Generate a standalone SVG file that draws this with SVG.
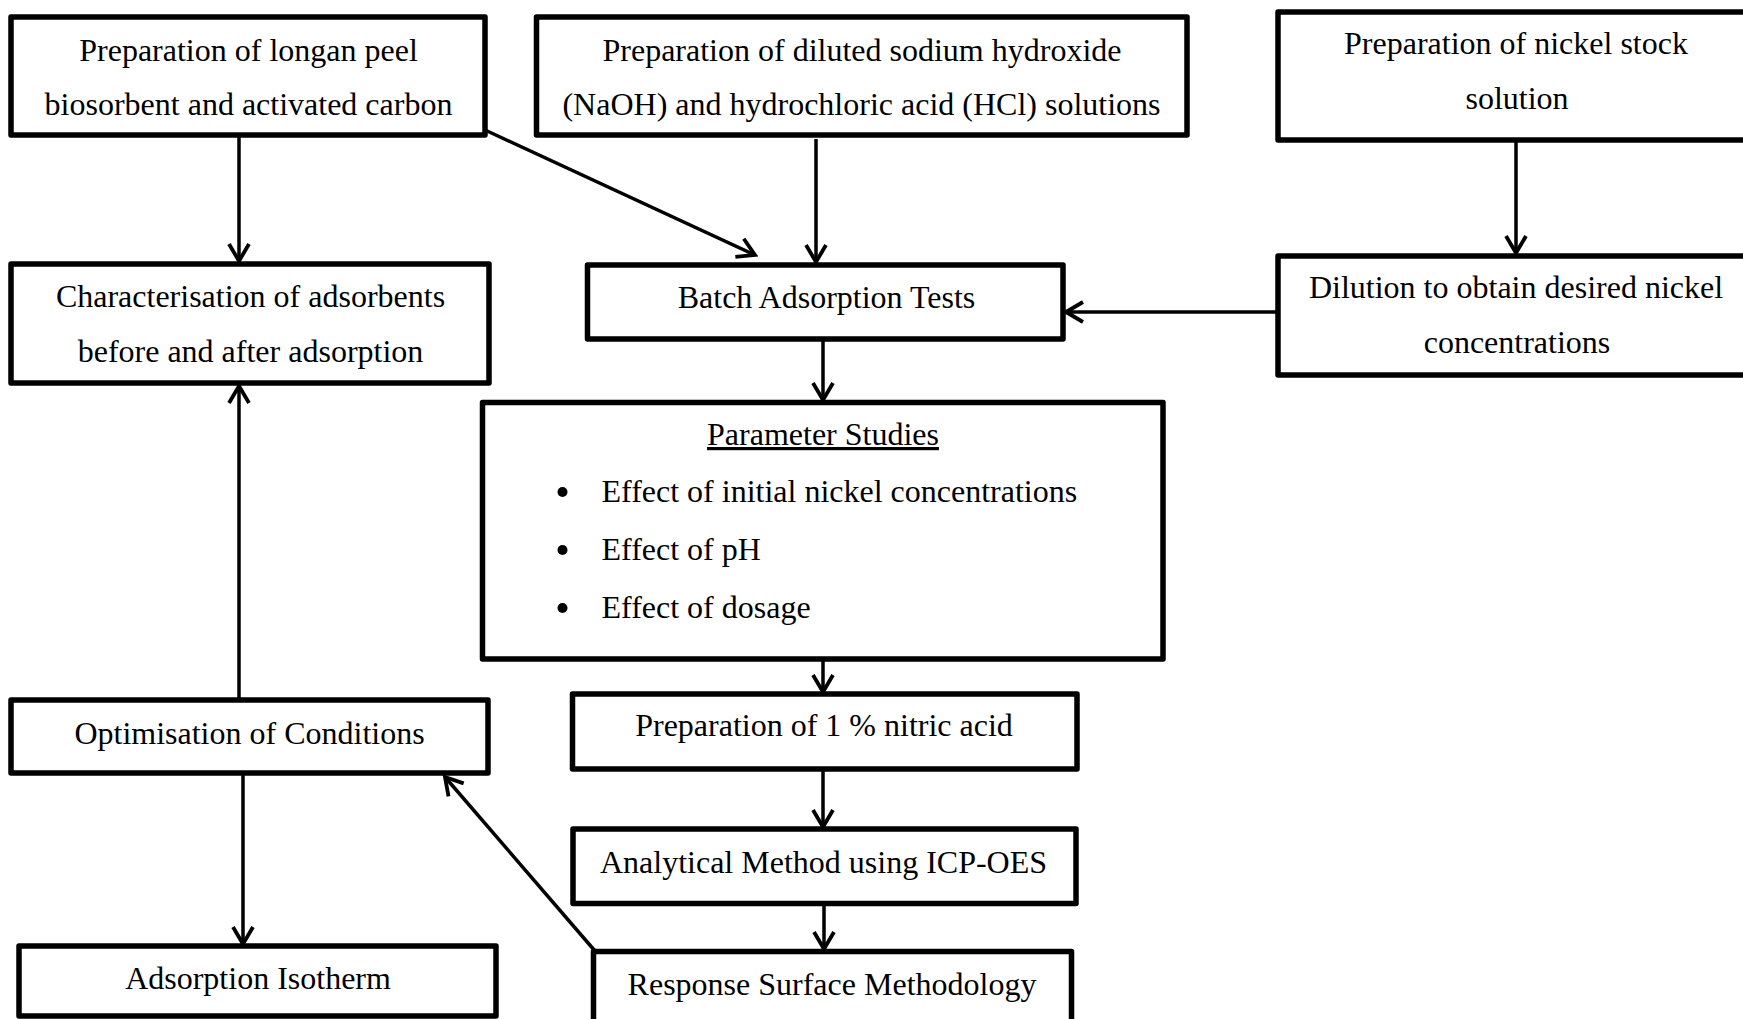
<svg xmlns="http://www.w3.org/2000/svg" width="1743" height="1019" viewBox="0 0 1743 1019">
<style>
.box{fill:#fff;stroke:#000;stroke-width:5.5;stroke-linejoin:round}
.t{font-family:"Liberation Serif","Times New Roman",serif;font-size:32px;fill:#000;text-anchor:middle}
.l{text-anchor:start}
.c{fill:none;stroke:#000;stroke-width:3.5}
</style>
<defs>
<marker id="arr" viewBox="0 0 24 24" refX="21" refY="12" markerWidth="24" markerHeight="24" markerUnits="userSpaceOnUse" orient="auto">
<path d="M4,2 L21,12 L4,22" fill="none" stroke="#000" stroke-width="3.8"/>
</marker>
</defs>
<rect width="1743" height="1019" fill="#fff"/>
<g id="connectors">
<line class="c" x1="239" y1="137" x2="239" y2="261" marker-end="url(#arr)"/>
<line class="c" x1="485" y1="130" x2="755" y2="255" marker-end="url(#arr)"/>
<line class="c" x1="816" y1="139" x2="816" y2="262" marker-end="url(#arr)"/>
<line class="c" x1="1516" y1="138" x2="1516" y2="253" marker-end="url(#arr)"/>
<line class="c" x1="1276" y1="312" x2="1066" y2="312" marker-end="url(#arr)"/>
<line class="c" x1="823" y1="341" x2="823" y2="400" marker-end="url(#arr)"/>
<line class="c" x1="823" y1="661" x2="823" y2="692" marker-end="url(#arr)"/>
<line class="c" x1="823" y1="771" x2="823" y2="827" marker-end="url(#arr)"/>
<line class="c" x1="824" y1="903" x2="824" y2="949" marker-end="url(#arr)"/>
<line class="c" x1="595" y1="951" x2="445" y2="777" marker-end="url(#arr)"/>
<line class="c" x1="239" y1="698" x2="239" y2="386" marker-end="url(#arr)"/>
<line class="c" x1="243" y1="775" x2="243" y2="944" marker-end="url(#arr)"/>
</g>
<g id="n1"><rect class="box" x="11" y="17" width="474" height="118"/>
<text class="t" x="248.5" y="61">Preparation of longan peel</text>
<text class="t" x="248.5" y="115">biosorbent and activated carbon</text></g>
<g id="n2"><rect class="box" x="536.5" y="17" width="650.5" height="118"/>
<text class="t" x="862" y="61">Preparation of diluted sodium hydroxide</text>
<text class="t" x="861.5" y="115">(NaOH) and hydrochloric acid (HCl) solutions</text></g>
<g id="n3"><rect class="box" x="1278" y="12" width="500" height="128"/>
<text class="t" x="1516" y="54">Preparation of nickel stock</text>
<text class="t" x="1517" y="109">solution</text></g>
<g id="n4"><rect class="box" x="11" y="264" width="478" height="119"/>
<text class="t" x="250.5" y="307">Characterisation of adsorbents</text>
<text class="t" x="250.5" y="362">before and after adsorption</text></g>
<g id="n5"><rect class="box" x="587.5" y="265" width="475.5" height="74"/>
<text class="t" x="826.5" y="308">Batch Adsorption Tests</text></g>
<g id="n6"><rect class="box" x="1278" y="256" width="500" height="119"/>
<text class="t" x="1516" y="298">Dilution to obtain desired nickel</text>
<text class="t" x="1517" y="353">concentrations</text></g>
<g id="n7"><rect class="box" x="482.5" y="402.5" width="680.5" height="256.5"/>
<text class="t" x="823" y="445" text-decoration="underline">Parameter Studies</text>
<circle cx="562.5" cy="492" r="5"/>
<circle cx="562.5" cy="550" r="5"/>
<circle cx="562.5" cy="608" r="5"/>
<text class="t l" x="601.5" y="502">Effect of initial nickel concentrations</text>
<text class="t l" x="601.5" y="560">Effect of pH</text>
<text class="t l" x="601.5" y="618">Effect of dosage</text></g>
<g id="n8"><rect class="box" x="11" y="700" width="477" height="73"/>
<text class="t" x="249.5" y="744">Optimisation of Conditions</text></g>
<g id="n9"><rect class="box" x="572.5" y="694" width="504.5" height="75"/>
<text class="t" x="824" y="736">Preparation of 1 % nitric acid</text></g>
<g id="n10"><rect class="box" x="573" y="829" width="503" height="74.5"/>
<text class="t" x="823.5" y="873">Analytical Method using ICP-OES</text></g>
<g id="n11"><rect class="box" x="19" y="946" width="477" height="70"/>
<text class="t" x="258" y="989">Adsorption Isotherm</text></g>
<g id="n12"><rect class="box" x="593.5" y="951.5" width="478" height="100"/>
<text class="t" x="832" y="995">Response Surface Methodology</text></g>
</svg>
